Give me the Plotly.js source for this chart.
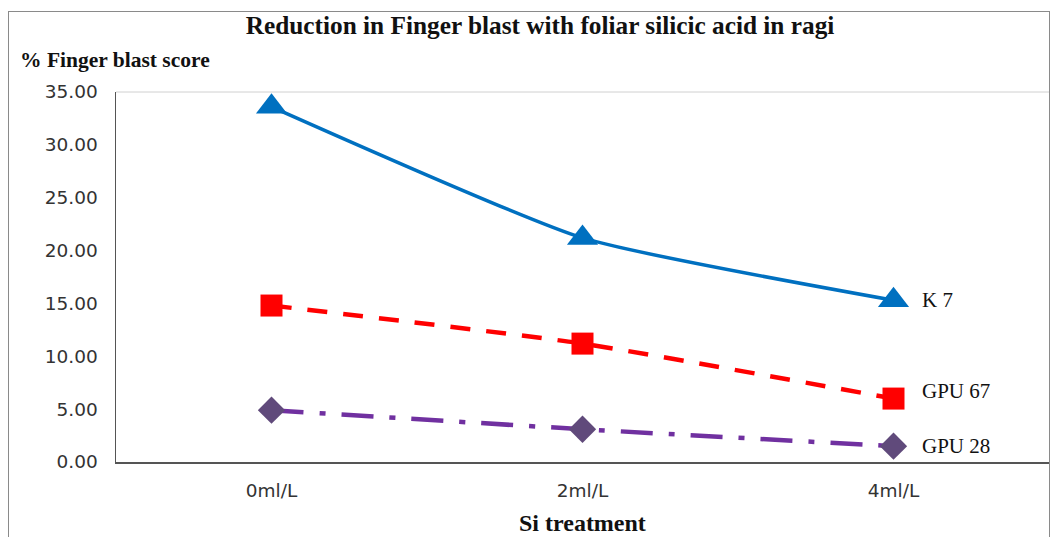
<!DOCTYPE html>
<html>
<head>
<meta charset="utf-8">
<script src="https://cdn.plot.ly/plotly-3.0.1.min.js"></script>
<style>
  html, body { margin: 0; padding: 0; background: #fff; }
  #wrap { position: relative; width: 1055px; height: 537px; overflow: hidden; }
  #chart { width: 1055px; height: 537px; }
  #frame { position: absolute; left: 8px; top: 11px; width: 1040px; height: 600px;
           border: 1.5px solid #8a8a8a; pointer-events: none; }
</style>
</head>
<body>
<div id="wrap">
  <div id="chart"></div>
  <div id="frame"></div>
</div>
<script>
const categories = ["0ml/L", "2ml/L", "4ml/L"];
const k7 = [33.6, 21.2, 15.3];
const gpu67 = [14.8, 11.2, 6.0];
const gpu28 = [4.9, 3.1, 1.5];
const seriesNames = ["K 7", "GPU 67", "GPU 28"];
const yTicks = [0, 5, 10, 15, 20, 25, 30, 35];

const serif = "Liberation Serif, Times New Roman, serif";
const sans = "DejaVu Sans, Verdana, sans-serif";

const traces = [
  { x: categories, y: k7, name: seriesNames[0], type: "scatter", mode: "lines+markers",
    line: { color: "#0070C0", width: 3.5, shape: "spline", smoothing: 0.5 },
    marker: { symbol: "triangle-up", size: 27, color: "#0070C0" } },
  { x: categories, y: gpu67, name: seriesNames[1], type: "scatter", mode: "lines+markers",
    line: { color: "#FF0000", width: 4.5, dash: "20px,16px", shape: "spline", smoothing: 0.5 },
    marker: { symbol: "square", size: 22, color: "#FF0000" } },
  { x: categories, y: gpu28, name: seriesNames[2], type: "scatter", mode: "lines+markers",
    line: { color: "#7030A0", width: 4.5, dash: "32px,16px,6px,16px", shape: "spline", smoothing: 0.5 },
    marker: { symbol: "diamond", size: 21, color: "#604A7B" } }
];

const endLabels = [k7, gpu67, gpu28].map((s, i) => ({
  x: categories[2], y: s[2], xref: "x", yref: "y", text: seriesNames[i],
  showarrow: false, xanchor: "left", xshift: 26, yshift: [0, 8, 0][i],
  font: { family: serif, size: 21, color: "#111" }
}));

const layout = {
  width: 1055, height: 537,
  margin: { l: 116, r: 6, t: 92, b: 75 },
  paper_bgcolor: "#fff", plot_bgcolor: "#fff",
  showlegend: false,
  title: { text: "<b>Reduction in Finger blast with foliar silicic acid in ragi</b>",
           x: 540 / 1055, xref: "container", xanchor: "center",
           y: 1 - 25 / 537, yref: "container", yanchor: "middle",
           font: { family: serif, size: 25.3, color: "#111" } },
  xaxis: {
    type: "category", range: [-0.5, 2.5], showgrid: false, zeroline: false,
    showline: true, linecolor: "#555", linewidth: 1.5,
    ticks: "", ticklabelstandoff: 11,
    tickfont: { family: sans, size: 18.5, color: "#333" }
  },
  yaxis: {
    range: [0, 35], tickvals: yTicks, tickformat: ".2f", showgrid: false, zeroline: false,
    showline: true, linecolor: "#555", linewidth: 1.5,
    ticks: "", ticklabelstandoff: 13,
    tickfont: { family: sans, size: 18.5, color: "#333" }
  },
  shapes: [
    { type: "line", xref: "paper", yref: "paper", x0: 0, x1: 1, y0: 1, y1: 1,
      line: { color: "#d0d0d0", width: 1 } }
  ],
  annotations: [
    { text: "<b>% Finger blast score</b>", xref: "paper", yref: "paper",
      x: -0.1055, y: 1.0 + (92 - 60) / 370, xanchor: "left", yanchor: "middle",
      showarrow: false, font: { family: serif, size: 21.5, color: "#111" } },
    { text: "<b>Si treatment</b>", xref: "paper", yref: "paper",
      x: 0.5, y: -(523 - 462) / 370, xanchor: "center", yanchor: "middle",
      showarrow: false, font: { family: serif, size: 24, color: "#111" } }
  ].concat(endLabels)
};

Plotly.newPlot("chart", traces, layout, { displayModeBar: false, staticPlot: true });
</script>
</body>
</html>
